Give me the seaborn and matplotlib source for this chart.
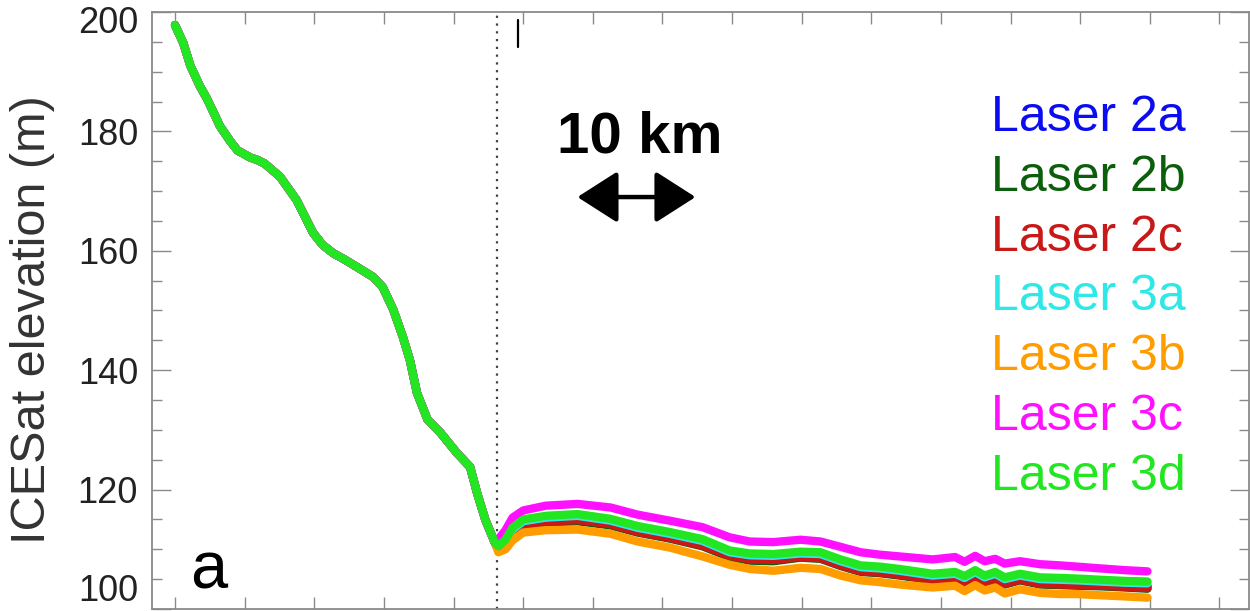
import matplotlib
matplotlib.use("Agg")
import matplotlib.pyplot as plt
import matplotlib.transforms as mtransforms
import numpy as np
import pandas as pd
import seaborn as sns

# ---------------- data ----------------
lasers = ["Laser 2a", "Laser 2b", "Laser 2c", "Laser 3a", "Laser 3b", "Laser 3c", "Laser 3d"]
laser_colors = ["#0c0cf0", "#0b5e0b", "#c81818", "#2ee8e8", "#ff9c00", "#ff10ff", "#22e622"]

# along-track distance (km) upstream of the dotted line: all campaigns coincide there
dist_upstream_km = [0.0, 0.7, 1.3, 2.1, 2.7, 3.4, 3.8, 4.7, 5.3, 6.4, 7.0, 7.6, 8.9, 10.3,
                    11.7, 12.5, 13.4, 14.4, 15.4, 16.8, 17.6, 18.5, 19.3, 19.9, 20.5, 21.4,
                    22.5, 23.9, 25.0, 25.6, 26.3, 27.1]
elev_upstream_m = [197.8, 194.8, 191.0, 187.6, 185.5, 182.6, 180.9, 178.3, 176.8, 175.6, 175.2,
                   174.6, 172.4, 168.5, 163.0, 161.0, 159.6, 158.5, 157.3, 155.6, 153.9, 150.1,
                   145.6, 141.7, 136.2, 131.7, 129.5, 126.1, 123.8, 119.4, 114.9, 111.1]

# downstream distances (km)
dist_downstream_km = [27.4, 28.0, 28.6, 29.5, 31.4, 34.1, 36.9, 39.2, 41.9, 44.7, 47.0, 48.7,
                      50.7, 53.0, 54.7, 56.4, 58.1, 59.7, 61.4, 64.2, 66.1, 66.9, 67.8, 68.6,
                      69.5, 70.3, 71.6, 73.3, 75.0, 76.4, 78.4, 80.5, 82.4]

elev_2a = [110.1, 111.0, 112.9, 114.2, 114.8, 115.1, 114.3, 113.1, 112.1, 110.9, 109.0, 108.5,
           108.4, 108.8, 108.7, 107.5, 106.5, 106.3, 105.9, 105.1, 105.4, 104.7, 105.7, 104.8,
           105.4, 104.5, 105.1, 104.5, 104.4, 104.3, 104.1, 103.9, 103.8]
elev_2b = [109.9, 110.7, 112.5, 113.9, 114.5, 114.7, 114.0, 112.8, 111.8, 110.5, 108.7, 108.1,
           108.0, 108.6, 108.4, 107.2, 106.2, 106.0, 105.6, 104.8, 105.1, 104.3, 105.3, 104.4,
           105.0, 104.1, 104.8, 104.1, 104.0, 103.9, 103.8, 103.6, 103.4]
elev_2c = [110.0, 110.9, 112.7, 114.0, 114.6, 114.9, 114.2, 112.9, 111.9, 110.6, 108.9, 108.3,
           108.2, 108.7, 108.5, 107.3, 106.3, 106.1, 105.7, 104.9, 105.2, 104.4, 105.4, 104.5,
           105.1, 104.2, 104.9, 104.2, 104.1, 104.0, 103.9, 103.7, 103.5]
elev_3a = [110.3, 111.3, 113.3, 114.7, 115.3, 115.6, 114.8, 113.6, 112.6, 111.4, 109.5, 109.0,
           108.9, 109.3, 109.2, 108.0, 107.0, 106.8, 106.4, 105.6, 105.9, 105.2, 106.2, 105.3,
           105.9, 105.0, 105.6, 105.0, 104.9, 104.8, 104.6, 104.4, 104.3]
elev_3b = [109.5, 110.0, 111.5, 112.8, 113.2, 113.3, 112.6, 111.3, 110.3, 108.8, 107.4, 106.7,
           106.4, 106.9, 106.7, 105.6, 104.8, 104.5, 104.1, 103.6, 103.9, 103.0, 104.0, 103.1,
           103.6, 102.6, 103.3, 102.7, 102.5, 102.5, 102.3, 102.1, 101.9]
elev_3c = [111.7, 113.2, 115.3, 116.5, 117.3, 117.6, 117.0, 115.8, 114.8, 113.7, 112.0, 111.3,
           111.2, 111.6, 111.3, 110.4, 109.5, 109.1, 108.8, 108.3, 108.7, 107.9, 108.9, 108.0,
           108.4, 107.6, 108.0, 107.5, 107.3, 107.1, 106.8, 106.5, 106.3]
elev_3d = [110.5, 111.6, 113.6, 115.0, 115.6, 115.9, 115.1, 113.9, 112.9, 111.7, 109.8, 109.3,
           109.2, 109.6, 109.5, 108.3, 107.3, 107.1, 106.7, 105.9, 106.2, 105.5, 106.5, 105.6,
           106.2, 105.3, 105.9, 105.3, 105.2, 105.1, 104.9, 104.7, 104.6]

y_ticks = [100, 120, 140, 160, 180, 200]
y_tick_labels = ["100", "120", "140", "160", "180", "200"]
scale_bar_km = 10

downstream = [elev_2a, elev_2b, elev_2c, elev_3a, elev_3b, elev_3c, elev_3d]
frames = []
for name, down in zip(lasers, downstream):
    frames.append(pd.DataFrame({
        "dist": dist_upstream_km + dist_downstream_km,
        "elev": elev_upstream_m + down,
        "laser": name,
    }))
df = pd.concat(frames, ignore_index=True)

# ---------------- style ----------------
sns.set_style("white")
FONT = ["Liberation Sans", "DejaVu Sans"]
plt.rcParams["font.family"] = FONT

fig = plt.figure(figsize=(12.5, 6.11), dpi=100)
ax = fig.add_axes([0.1216, 0.0033, 0.8776, 0.9771])

sns.lineplot(data=df, x="dist", y="elev", hue="laser", hue_order=lasers,
             palette=dict(zip(lasers, laser_colors)), estimator=None, sort=False,
             legend=False, linewidth=6.0, solid_capstyle="round", ax=ax)

ax.set_xlim(-1.95, 91.0)
ax.set_ylim(100, 200)

# spines / ticks (IDL look: inward ticks on all sides)
for s in ax.spines.values():
    s.set_visible(True)
    s.set_color("#8a8a8a")
    s.set_linewidth(1.3)

ax.set_xticks(np.arange(0, 90, 5.9))
ax.set_xticklabels([])
ax.set_yticks(y_ticks)
ax.set_yticks(np.arange(100, 201, 5), minor=True)
ax.tick_params(axis="x", which="major", direction="in", length=8.5, width=1.0,
               color="#8a8a8a", top=True, bottom=True)
ax.tick_params(axis="y", which="major", direction="in", length=14, width=1.0,
               color="#8a8a8a", left=True, right=True, pad=10,
               labelsize=26, labelcolor="#222222")
ax.tick_params(axis="y", which="minor", direction="in", length=7, width=1.0,
               color="#8a8a8a", left=True, right=True)
ax.set_yticklabels(["", "120", "140", "160", "180", ""])

# end labels sit slightly inside the frame in the reference
tr_top = mtransforms.offset_copy(ax.get_yaxis_transform(), fig=fig, x=-14, y=-12, units="dots")
tr_bot = mtransforms.offset_copy(ax.get_yaxis_transform(), fig=fig, x=-14, y=17, units="dots")
ax.text(0, y_ticks[-1], y_tick_labels[-1], transform=tr_top, ha="right", va="center",
        fontsize=26, color="#222222")
ax.text(0, y_ticks[0], y_tick_labels[0], transform=tr_bot, ha="right", va="center",
        fontsize=26, color="#222222")

ax.set_xlabel("")
ax.set_ylabel("ICESat elevation (m)", fontsize=35, color="#333333")
ax.yaxis.set_label_coords(-0.088, 0.484)

# grounding-line marker (dotted) and small tick mark
ax.axvline(27.3, color="#404040", lw=1.6, ls=(0, (1, 2.5)), zorder=1)
ax.axvline(29.1, ymin=0.941, ymax=0.987, color="black", lw=1.6)

# scale bar
ax.text(39.4, 176.4, "10 km", ha="center", va="baseline", fontsize=42,
        fontweight="bold", color="black")
ax.annotate("", xy=(34.1 + scale_bar_km, 169.0), xytext=(34.1, 169.0),
            arrowprops=dict(arrowstyle="<|-|>,head_length=1.25,head_width=0.8",
                            lw=3.2, color="black", mutation_scale=20,
                            shrinkA=0, shrinkB=0))

# colored legend text
for i, (name, col) in enumerate(zip(lasers, laser_colors)):
    ax.text(69.1, 180 - 10 * i, name, color=col, fontsize=36, ha="left", va="baseline")

# panel letter
ax.text(1.3, 103.5, "a", fontsize=48, ha="left", va="baseline", color="black")

fig.savefig("out.png", dpi=100)
